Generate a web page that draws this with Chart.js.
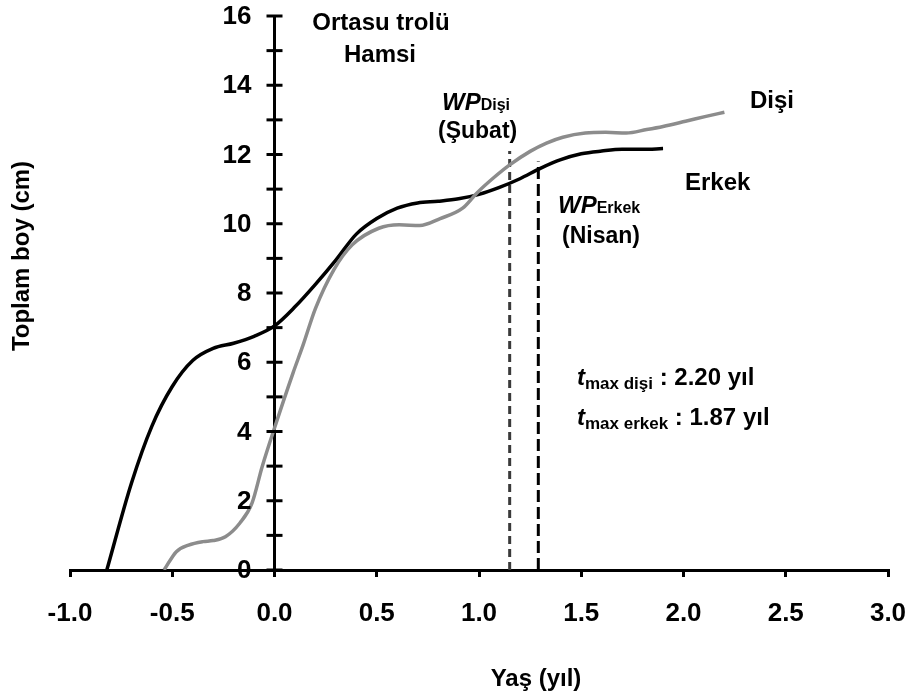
<!DOCTYPE html>
<html lang="tr">
<head>
<meta charset="UTF-8">
<title>Ortasu trolü Hamsi</title>
<script src="https://cdn.jsdelivr.net/npm/chart.js@4.4.1/dist/chart.umd.min.js"></script>
<style>
  body { margin: 0; background: #fff; }
</style>
</head>
<body>
<canvas id="growthChart" width="911" height="700"></canvas>
<script>
// Erkek (male) growth curve
const erkekX = [-0.82, -0.70, -0.60, -0.50, -0.40, -0.30, -0.20, -0.10, 0.0, 0.1, 0.2, 0.3, 0.4, 0.5,
                0.6, 0.7, 0.8, 0.9, 1.0, 1.1, 1.2, 1.3, 1.4, 1.5, 1.6, 1.7, 1.8, 1.9];
const erkekY = [0, 2.5, 4.15, 5.3, 6.05, 6.4, 6.55, 6.75, 7.05, 7.6, 8.25, 8.95, 9.7, 10.15,
                10.45, 10.6, 10.65, 10.72, 10.85, 11.05, 11.3, 11.6, 11.85, 12.02, 12.1, 12.15, 12.15, 12.17];

// Dişi (female) growth curve
const disiX = [-0.54, -0.48, -0.42, -0.35, -0.30, -0.24, -0.17, -0.11, -0.06, 0.0, 0.09, 0.14, 0.2, 0.29,
               0.38, 0.51, 0.61, 0.71, 0.81, 0.92, 0.99, 1.07, 1.15, 1.25, 1.33, 1.41, 1.52, 1.62,
               1.72, 1.82, 1.9, 2.01, 2.11, 2.2];
const disiY = [0, 0.53, 0.72, 0.82, 0.85, 0.96, 1.35, 1.93, 2.99, 4.1, 5.68, 6.5, 7.55, 8.67,
               9.39, 9.87, 9.97, 9.95, 10.15, 10.45, 10.89, 11.32, 11.7, 12.09, 12.33, 12.5, 12.62, 12.64,
               12.62, 12.72, 12.81, 12.96, 13.1, 13.22];

// WP markers (x position, top of the dashed line)
const wpDisi = [1.15, 12.1];
const wpErkek = [1.29, 11.8];

const FONT = '"Liberation Sans", Arial, sans-serif';

function toPoints(xs, ys) {
  return xs.map((x, i) => ({ x: x, y: ys[i] }));
}

// draws pieces of text one after another on one line
function drawRuns(c, x, y, parts) {
  parts.forEach(p => {
    c.font = p[1];
    c.fillText(p[0], x, y + (p[2] || 0));
    x += c.measureText(p[0]).width;
  });
}

const textPlugin = {
  id: 'texts',
  afterDraw(chart) {
    const c = chart.ctx;
    const xs = chart.scales.x;
    const ys = chart.scales.y;
    c.save();

    const b24 = 'bold 24px ' + FONT;
    const bi24 = 'italic bold 24px ' + FONT;
    const b16 = 'bold 16px ' + FONT;
    const b17 = 'bold 17px ' + FONT;

    // y axis sits at x = 0: ticks cross it, labels go left of it
    const x0 = xs.getPixelForValue(0);
    c.strokeStyle = '#000';
    c.fillStyle = '#000';
    c.lineWidth = 3;
    c.font = 'bold 26px ' + FONT;
    c.textAlign = 'right';
    c.textBaseline = 'middle';
    ys.ticks.forEach(t => {
      const y = ys.getPixelForValue(t.value);
      c.beginPath();
      c.moveTo(x0 - 8, y);
      c.lineTo(x0 + 8, y);
      c.stroke();
      if (t.value % 2 === 0) c.fillText(String(t.value), x0 - 23, y + 1);
    });

    // axis titles
    c.font = b24;
    c.textAlign = 'center';
    c.fillText('Yaş (yıl)', 536, 679);
    c.save();
    c.translate(22, 256);
    c.rotate(-Math.PI / 2);
    c.fillText('Toplam boy (cm)', 0, 0);
    c.restore();

    c.textBaseline = 'alphabetic';
    c.fillText('Ortasu trolü', 381, 30);
    c.fillText('Hamsi', 380, 62);

    c.textAlign = 'left';
    c.fillText('Dişi', 750, 108);
    c.fillText('Erkek', 685, 190);

    drawRuns(c, 442, 110, [['WP', bi24], ['Dişi', b16]]);
    c.font = 'bold 23px ' + FONT;
    c.fillText('(Şubat)', 438, 138);

    drawRuns(c, 558, 213, [['WP', bi24], ['Erkek', b16]]);
    c.font = 'bold 23px ' + FONT;
    c.fillText('(Nisan)', 562, 243);

    drawRuns(c, 577, 385, [['t', bi24], ['max dişi', b17, 4], [' : 2.20 yıl', b24]]);
    drawRuns(c, 577, 425, [['t', bi24], ['max erkek', b17, 4], [' : 1.87 yıl', b24]]);

    c.restore();
  }
};

Chart.defaults.font.family = FONT;
Chart.defaults.color = '#000';

new Chart(document.getElementById('growthChart'), {
  type: 'line',
  data: {
    datasets: [
      {
        label: 'Dişi',
        data: toPoints(disiX, disiY),
        borderColor: '#8c8c8c',
        borderWidth: 3.5,
        pointRadius: 0,
        cubicInterpolationMode: 'monotone'
      },
      {
        label: 'Erkek',
        data: toPoints(erkekX, erkekY),
        borderColor: '#000',
        borderWidth: 3.5,
        pointRadius: 0,
        cubicInterpolationMode: 'monotone'
      },
      {
        label: 'WP Dişi',
        data: [{ x: wpDisi[0], y: 0 }, { x: wpDisi[0], y: wpDisi[1] }],
        borderColor: '#3a3a3a',
        borderWidth: 3,
        borderDash: [8, 5],
        pointRadius: 0
      },
      {
        label: 'WP Erkek',
        data: [{ x: wpErkek[0], y: 0 }, { x: wpErkek[0], y: wpErkek[1] }],
        borderColor: '#000',
        borderWidth: 3,
        borderDash: [12, 5],
        pointRadius: 0
      }
    ]
  },
  plugins: [textPlugin],
  options: {
    responsive: false,
    animation: false,
    layout: { padding: { left: 70, right: 23, top: 16, bottom: 0 } },
    plugins: {
      legend: { display: false },
      tooltip: { enabled: false }
    },
    scales: {
      x: {
        type: 'linear',
        position: 'bottom',
        min: -1,
        max: 3,
        afterFit: (scale) => {
          scale.height = 130;
          scale.paddingLeft = 0;
          scale.paddingRight = 0;
        },
        ticks: {
          stepSize: 0.5,
          padding: 21,
          font: { size: 26, weight: 'bold' },
          callback: (v) => v.toFixed(1)
        },
        grid: { drawOnChartArea: false, tickLength: 7, color: '#000', lineWidth: 3 },
        border: { color: '#000', width: 3 }
      },
      y: {
        type: 'linear',
        position: { x: 0 },
        min: 0,
        max: 16,
        afterFit: (scale) => {
          scale.paddingTop = 0;
          scale.paddingBottom = 0;
        },
        ticks: { stepSize: 1, display: false },
        grid: { drawOnChartArea: false, drawTicks: false },
        border: { color: '#000', width: 3 }
      }
    }
  }
});
</script>
</body>
</html>
